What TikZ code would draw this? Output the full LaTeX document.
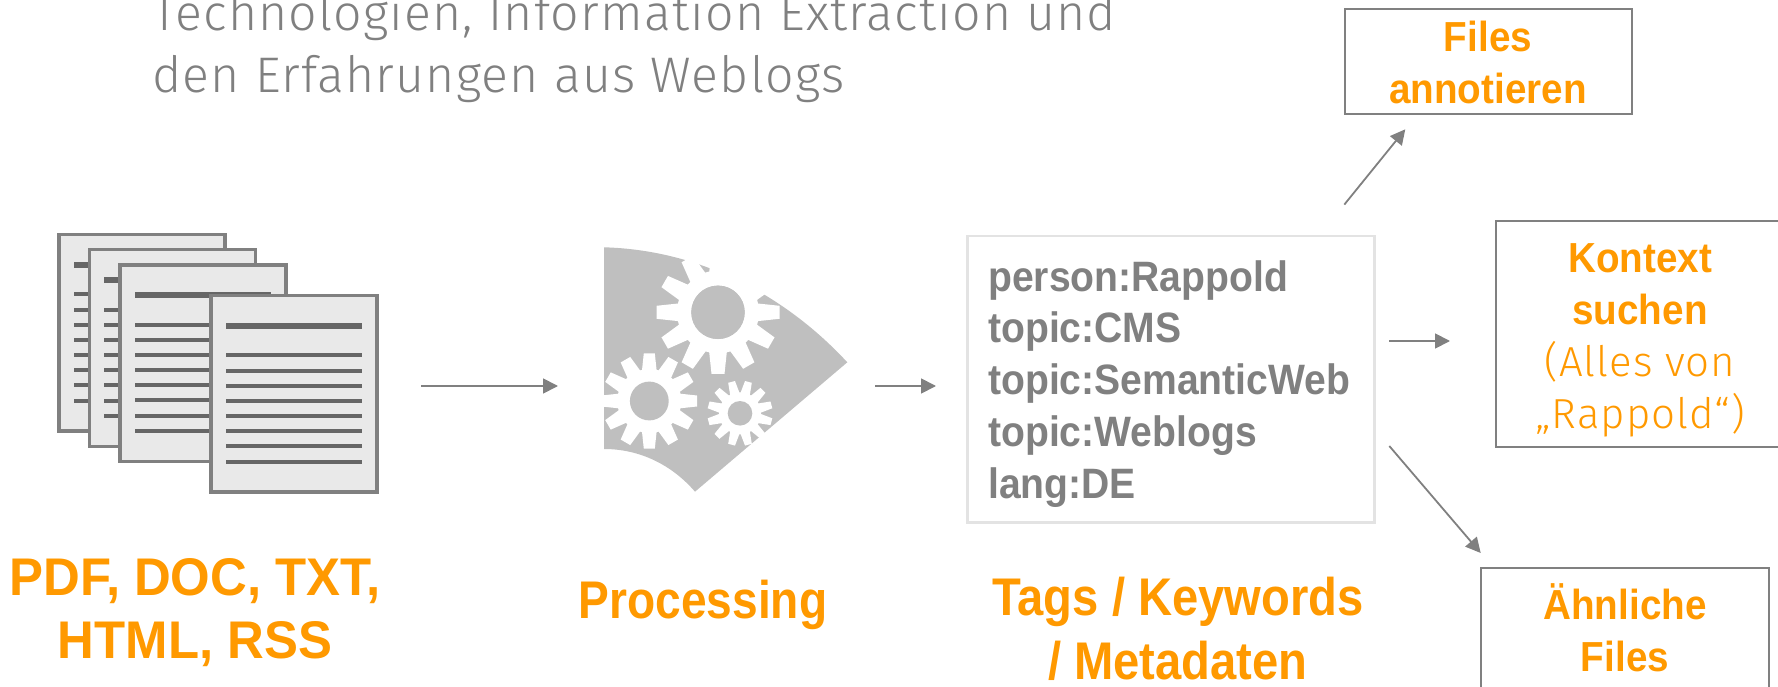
\documentclass[tikz,border=0pt]{standalone}
\usepackage{fontspec}
\usetikzlibrary{arrows.meta}
\setmainfont{Fira Sans}
\newfontfamily\lightfont[UprightFont=* Light,LetterSpace=2.4]{Fira Sans}
\newfontfamily\boldfont[FakeStretch=0.87]{Liberation Sans Bold}
\newfontfamily\capsfont[FakeStretch=0.96]{Liberation Sans Bold}
\newfontfamily\tagsfont[FakeStretch=0.89]{Liberation Sans Bold}
\newfontfamily\boxfont[FakeStretch=0.92]{Liberation Sans Bold}
\definecolor{orng}{HTML}{FF9900}
\definecolor{gry}{HTML}{808080}
\definecolor{shapegry}{HTML}{BFBFBF}
\definecolor{pagefill}{HTML}{E9E9E9}
\definecolor{rulegry}{HTML}{666666}
\definecolor{tagline}{HTML}{E3E3E3}
\newcommand{\fsz}[2]{\fontsize{#1pt}{#2pt}\selectfont}
\newcommand{\docpage}[2]{%
  \draw[pageframe] (#1+1.75,#2+1.75) rectangle (#1+167.75,#2+198.25);
  \fill[rulegry] (#1+16.8,#2+29) rectangle (#1+152.8,#2+35);
  \foreach \ry in {61.7,77,92,107,122.3,137.3,152.7,168}
    \fill[rulegry] (#1+16.8,#2+\ry-2) rectangle (#1+152.8,#2+\ry+2);
}
\newcommand{\gearshape}[7]{% cx cy body outer hub tipw basew
  \begin{scope}[shift={(#1,#2)}]
    \fill[white] (0,0) circle[radius=#3];
    \foreach \a in {0,30,...,330}
      \fill[white,rotate=\a+\gearrot] (#3-3,-#7) -- (#4,-#6) -- (#4,#6) -- (#3-3,#7) -- cycle;
    \fill[shapegry] (0,0) circle[radius=#5];
  \end{scope}
}
\newcommand{\gearrot}{0}
\tikzset{
  x=1pt,y=-1pt,
  pageframe/.style={draw=gry,line width=3.5pt,fill=pagefill},
  conn/.style={draw=gry,line width=1.8pt,-{Triangle[length=15pt,width=15pt]}},
  outbox/.style={draw=gry,line width=2pt,rectangle,inner sep=0pt,anchor=north west},
  head/.style={text=orng,align=center,anchor=base,inner sep=0pt,font=\boldfont\fsz{53}{63}},
  boxtxt/.style={text=orng,align=center,anchor=base,inner sep=0pt,font=\boxfont\fsz{42}{52}},
  lighttxt/.style={text=gry,anchor=base west,inner sep=0pt,font=\lightfont\fsz{50}{62}},
}
\begin{document}
\begin{tikzpicture}
\useasboundingbox (0,0) rectangle (1778,687);
\clip (0,0) rectangle (1778,687);
\node[lighttxt] (intro1) at (152,30.6) {Technologien, Information Extraction und};
\node[lighttxt] (intro2) at (152,93) {den Erfahrungen aus Weblogs};
% documents
\docpage{57.4}{232.7}
\docpage{87.6}{248}
\docpage{118}{263}
\docpage{209}{293.7}
% processing shape
\fill[shapegry] (604,247.3) .. controls (700,250) and (785,295) .. (847.3,362.3)
  -- (695,491.7) .. controls (672,465) and (640,449) .. (604,449) -- cycle;
\gearshape{718}{312.3}{41}{61.5}{26.7}{6.5}{9}
\fill[white] (710,266.7) -- (711,271) -- (705,272.7) -- (756.7,299) -- (766.7,292.3) -- (770,270) -- (730,253) -- cycle;
\fill[shapegry] (718,312.3) circle[radius=26.7];
\gearshape{649.3}{401}{32}{47.7}{19.4}{5.5}{7.5}
\renewcommand{\gearrot}{15}
\gearshape{740}{413.3}{21}{32.5}{12.3}{3.5}{5}
\renewcommand{\gearrot}{0}
% tag box
\node[draw=tagline,line width=2.5pt,rectangle,inner sep=0pt,minimum width=407pt,minimum height=286pt,anchor=north west] (tags) at (966,235) {};
\node[text=gry,anchor=base west,align=left,inner sep=0pt,font=\boxfont\fsz{42.5}{51.7}] (taglist) at (988,498)
  {person:Rappold\\topic:CMS\\topic:SemanticWeb\\topic:Weblogs\\lang:DE};
% headings
\node[head,font=\capsfont\fsz{53}{63}] (h1) at (195,658) {PDF, DOC, TXT,\\HTML, RSS};
\node[head] (h2) at (703,618) {Processing};
\node[head,font=\tagsfont\fsz{53}{64}] (h3) at (1178,679) {Tags / Keywords\\/ Metadaten};
% output boxes
\node[outbox,minimum width=287pt,minimum height=105pt] (bfiles) at (1344.3,8) {};
\node[boxtxt] (tfiles) at (1488,104) {Files\\annotieren};
\node[outbox,minimum width=300pt,minimum height=226pt] (bkontext) at (1495,220) {};
\node[boxtxt] (tkontext) at (1640,428) {Kontext\\suchen\\\lightfont (Alles von\\\lightfont „Rappold“)};
\node[outbox,minimum width=288pt,minimum height=140pt] (bahn) at (1480,567) {};
\node[boxtxt] (tahn) at (1625,671) {Ähnliche\\Files};
% connectors
\coordinate (a1s) at (421,386); \coordinate (a1e) at (558,386);
\coordinate (a2s) at (875,386); \coordinate (a2e) at (936,386);
\coordinate (a3s) at (1344.3,204.6); \coordinate (a3e) at (1405.3,129.3);
\coordinate (a4s) at (1389.3,341); \coordinate (a4e) at (1450,341);
\coordinate (a5s) at (1389.3,446); \coordinate (a5e) at (1480.7,553);
\foreach \s/\e in {a1s/a1e,a2s/a2e,a3s/a3e,a4s/a4e,a5s/a5e}
  \draw[conn] (\s) -- (\e);
\end{tikzpicture}
\end{document}
